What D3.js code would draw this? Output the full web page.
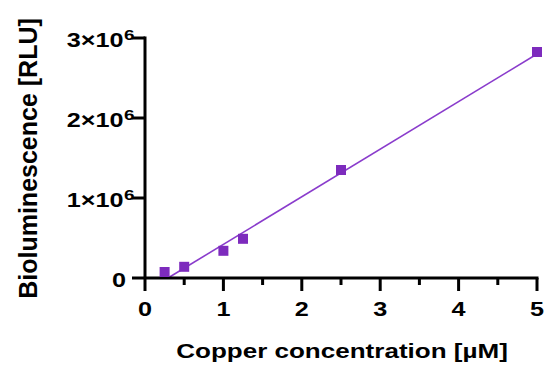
<!DOCTYPE html>
<html><head><meta charset="utf-8">
<script src="https://cdn.jsdelivr.net/npm/d3@7"></script>
<style>body{margin:0;background:#fff}svg{display:block}text{font-family:"Liberation Sans",Arial,sans-serif;font-weight:bold}</style>
</head><body>
<script>
const concentrations = [0.25, 0.5, 1, 1.25, 2.5, 5];
const luminescence = [75000, 140000, 340000, 490000, 1350000, 2825000];
const fitX = [0.293, 5];
const fitY = [0, 2800000];
const xMajorTicks = [0, 1, 2, 3, 4, 5];
const xMinorTicks = [0.5, 1.5, 2.5, 3.5, 4.5];
const yTicks = [0, 1, 2, 3];
const yTickLabels = ["0", "1×10", "2×10", "3×10"];

const W = 547, H = 365;
const SX = 1.26; // horizontal stretch of glyphs in the reference
const svg = d3.select("body").append("svg").attr("width", W).attr("height", H);
const x = d3.scaleLinear().domain([0, 5]).range([145, 537]);
const y = d3.scaleLinear().domain([0, 3e6]).range([278, 38]);
const col = "#7d2bbd";

// fit line
svg.append("line").attr("x1", x(fitX[0])).attr("y1", y(fitY[0])).attr("x2", x(fitX[1])).attr("y2", y(fitY[1]))
  .attr("stroke", "#8a3ccc").attr("stroke-width", 1.6);

// axes
const g = svg.append("g").attr("stroke", "#000").attr("stroke-width", 3).attr("stroke-linecap", "butt");
g.append("line").attr("x1", 132).attr("x2", x(5) + 1.5).attr("y1", y(0)).attr("y2", y(0));
g.append("line").attr("x1", x(0)).attr("x2", x(0)).attr("y1", y(3e6) - 1.5).attr("y2", y(0) + 13);
xMajorTicks.filter(d => d > 0).forEach(d => g.append("line").attr("x1", x(d)).attr("x2", x(d)).attr("y1", y(0)).attr("y2", y(0) + 13));
xMinorTicks.forEach(d => g.append("line").attr("x1", x(d)).attr("x2", x(d)).attr("y1", y(0)).attr("y2", y(0) + 7));
yTicks.filter(d => d > 0).forEach(d => g.append("line").attr("x1", 132).attr("x2", x(0)).attr("y1", y(d * 1e6)).attr("y2", y(d * 1e6)));

// x tick labels
svg.selectAll(".xl").data(xMajorTicks).join("text")
  .attr("transform", d => `translate(${x(d)},315.7) scale(${SX},1)`)
  .attr("text-anchor", "middle").attr("font-size", 20).text(d => d);

// y tick labels
yTicks.forEach((d, i) => {
  const yy = y(d * 1e6);
  if (d > 0) {
    svg.append("text").attr("transform", `translate(123.5,${yy + 8.7}) scale(${SX},1)`)
      .attr("text-anchor", "end").attr("font-size", 20).text(yTickLabels[i]);
    svg.append("text").attr("transform", `translate(124,${yy + 2}) scale(${SX},1)`)
      .attr("text-anchor", "start").attr("font-size", 15).text("6");
  } else {
    svg.append("text").attr("transform", `translate(126,${yy + 8.7}) scale(${SX},1)`)
      .attr("text-anchor", "end").attr("font-size", 20).text(yTickLabels[i]);
  }
});

// points
const s = 10;
svg.selectAll(".pt").data(concentrations).join("rect")
  .attr("x", (d) => x(d) - s / 2).attr("y", (d, i) => y(luminescence[i]) - s / 2)
  .attr("width", s).attr("height", s).attr("fill", col);

// titles
svg.append("text").attr("transform", `translate(342,358) scale(1.24,1)`)
  .attr("text-anchor", "middle").attr("font-size", 21).text("Copper concentration [µM]");
svg.append("text").attr("transform", "translate(37,158.5) rotate(-90)")
  .attr("text-anchor", "middle").attr("font-size", 25).text("Bioluminescence [RLU]");
</script>
</body></html>
